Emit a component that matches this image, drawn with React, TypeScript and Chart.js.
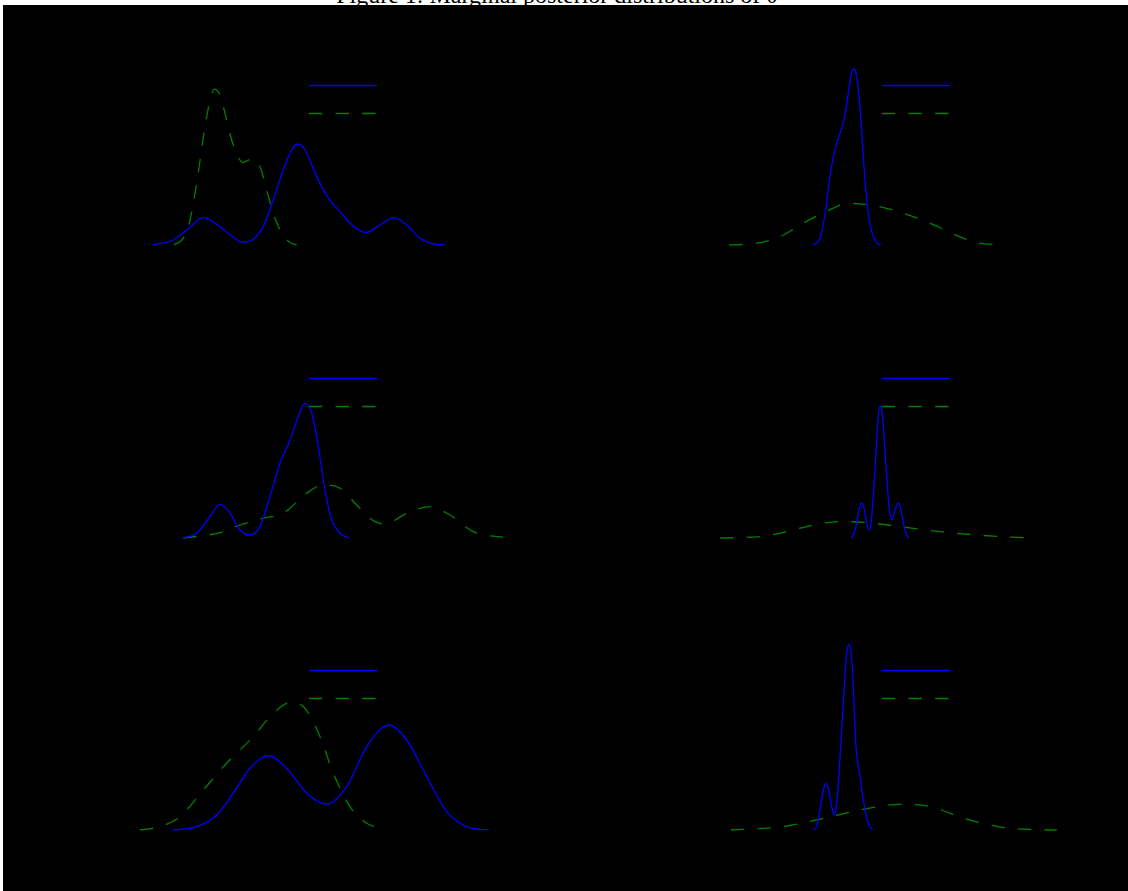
import React, { useEffect, useRef } from "react";
import { Chart, registerables } from "chart.js";

Chart.register(...registerables);

const TITLE = "Figure 1: Marginal posterior distributions of θ";
const SERIES_LABELS = ["Posterior", "Prior"];
const PANEL_NAMES = ["θ1", "θ2", "θ3", "θ4", "θ5", "θ6"];

// Panel 1 (top left)
const p1PostX = [-3.925, -3.418, -3.083, -2.668, -2.25, -1.918, -1.683, -1.418, -1.168, -0.918, -0.668, -0.458, -0.308, -0.125, 0.168, 0.458, 0.75, 1.083, 1.393, 1.75, 2.1, 2.418, 2.75, 3.083, 3.375];
const p1PostY = [0, 0.025, 0.075, 0.137, 0.092, 0.039, 0.014, 0.029, 0.092, 0.225, 0.375, 0.475, 0.505, 0.475, 0.342, 0.234, 0.167, 0.095, 0.062, 0.1, 0.137, 0.1, 0.034, 0.005, 0];
const p1PriorX = [-3.4, -3.168, -3.0, -2.833, -2.583, -2.393, -2.25, -2.125, -1.958, -1.833, -1.683, -1.458, -1.25, -1.083, -0.918, -0.708, -0.5, -0.333];
const p1PriorY = [0, 0.034, 0.125, 0.309, 0.642, 0.779, 0.75, 0.659, 0.525, 0.459, 0.412, 0.43, 0.392, 0.275, 0.159, 0.059, 0.012, 0];

// Panel 2 (top right)
const p2PostX = [-1.758, -1.575, -1.433, -1.35, -1.258, -1.158, -1.033, -0.95, -0.868, -0.8, -0.743, -0.675, -0.575, -0.508, -0.443, -0.368, -0.283, -0.158, -0.058];
const p2PostY = [0, 0.034, 0.175, 0.309, 0.425, 0.509, 0.584, 0.65, 0.759, 0.85, 0.88, 0.862, 0.692, 0.492, 0.309, 0.159, 0.067, 0.012, 0];
const p2PriorX = [-3.843, -3.158, -2.575, -1.993, -1.243, -0.908, -0.158, 0.508, 1.175, 1.758, 2.343, 3.075];
const p2PriorY = [0, 0.009, 0.042, 0.109, 0.184, 0.209, 0.195, 0.159, 0.109, 0.055, 0.012, 0];

// Panel 3 (middle left)
const p3PostX = [-3.168, -2.833, -2.5, -2.25, -2.0, -1.75, -1.5, -1.25, -1.0, -0.75, -0.5, -0.293, -0.125, 0.043, 0.208, 0.375, 0.543, 0.75, 0.983];
const p3PostY = [0, 0.024, 0.107, 0.169, 0.124, 0.04, 0.015, 0.057, 0.207, 0.374, 0.49, 0.607, 0.674, 0.624, 0.457, 0.24, 0.09, 0.024, 0];
const p3PriorX = [-3.168, -2.25, -1.75, -1.168, -0.668, -0.083, 0.333, 0.75, 1.168, 1.583, 1.875, 2.418, 3.0, 3.5, 4.083, 5.0];
const p3PriorY = [0, 0.027, 0.065, 0.099, 0.124, 0.224, 0.265, 0.249, 0.165, 0.087, 0.07, 0.124, 0.157, 0.115, 0.032, 0];

// Panel 4 (middle right)
const p4PostX = [-0.783, -0.725, -0.658, -0.593, -0.533, -0.475, -0.408, -0.35, -0.3, -0.243, -0.183, -0.133, -0.075, -0.018, 0.033, 0.093, 0.15, 0.218, 0.3, 0.383, 0.45, 0.508, 0.575, 0.633];
const p4PostY = [0, 0.024, 0.074, 0.149, 0.177, 0.149, 0.074, 0.04, 0.074, 0.207, 0.39, 0.574, 0.66, 0.624, 0.49, 0.307, 0.157, 0.09, 0.14, 0.177, 0.14, 0.074, 0.024, 0];
const p4PriorX = [-4.075, -3.075, -2.408, -1.743, -1.075, -0.408, 0.425, 1.425, 2.343, 3.633];
const p4PriorY = [0, 0.007, 0.032, 0.065, 0.082, 0.077, 0.057, 0.032, 0.015, 0];

// Panel 5 (bottom left)
const p5PostX = [-3.418, -2.833, -2.333, -1.918, -1.5, -1.043, -0.583, -0.083, 0.418, 0.918, 1.418, 1.975, 2.418, 2.918, 3.418, 3.918, 4.458];
const p5PostY = [0, 0.017, 0.075, 0.184, 0.309, 0.372, 0.309, 0.184, 0.129, 0.217, 0.417, 0.525, 0.45, 0.267, 0.092, 0.017, 0];
const p5PriorX = [-4.25, -3.75, -3.25, -2.668, -2.083, -1.418, -0.918, -0.5, -0.168, 0.25, 0.583, 1.0, 1.418, 1.793];
const p5PriorY = [0, 0.017, 0.067, 0.2, 0.334, 0.467, 0.584, 0.637, 0.617, 0.467, 0.284, 0.117, 0.034, 0.007];

// Panel 6 (bottom right)
const p6PostX = [-1.725, -1.658, -1.575, -1.493, -1.425, -1.358, -1.283, -1.225, -1.158, -1.093, -1.033, -0.975, -0.908, -0.858, -0.808, -0.758, -0.718, -0.675, -0.643, -0.575, -0.518, -0.45, -0.368, -0.258];
const p6PostY = [0, 0.017, 0.1, 0.2, 0.234, 0.2, 0.117, 0.075, 0.134, 0.3, 0.5, 0.7, 0.884, 0.925, 0.9, 0.784, 0.584, 0.417, 0.35, 0.267, 0.184, 0.1, 0.034, 0];
const p6PriorX = [-3.8, -2.493, -1.575, -0.575, 0.425, 1.175, 2.093, 3.175, 4.343];
const p6PriorY = [0, 0.017, 0.054, 0.1, 0.128, 0.117, 0.054, 0.009, 0];

const X_MIN = -5.5;
const X_MAX = 5.5;
const Y_MIN = 0;
const Y_MAX = 1;

const PANELS = [
  { name: PANEL_NAMES[0], postX: p1PostX, postY: p1PostY, priorX: p1PriorX, priorY: p1PriorY },
  { name: PANEL_NAMES[1], postX: p2PostX, postY: p2PostY, priorX: p2PriorX, priorY: p2PriorY },
  { name: PANEL_NAMES[2], postX: p3PostX, postY: p3PostY, priorX: p3PriorX, priorY: p3PriorY },
  { name: PANEL_NAMES[3], postX: p4PostX, postY: p4PostY, priorX: p4PriorX, priorY: p4PriorY },
  { name: PANEL_NAMES[4], postX: p5PostX, postY: p5PostY, priorX: p5PriorX, priorY: p5PriorY },
  { name: PANEL_NAMES[5], postX: p6PostX, postY: p6PostY, priorX: p6PriorX, priorY: p6PriorY },
];

// Layout (page pixels)
const COL_LEFT = [3, 565];
const COL_WIDTH = [562, 563];
const COL_CENTER = [310, 883];
const HALF_PLOT_W = 220;
const ROW_TOP = [5, 297, 589];
const ROW_HEIGHT = [292, 292, 302];
const ROW_BASE = [245, 538, 830];
const PLOT_H = 200;

const BLUE = "#0000ff";
const GREEN = "#008000";
const DASH = [13.3, 13.3];

const legendPlugin = {
  id: "innerLegend",
  afterDatasetsDraw(chart: any) {
    const { ctx, chartArea } = chart;
    ctx.save();
    chart.data.datasets.forEach((ds: any, i: number) => {
      const y = chartArea.top + 40.5 + 28 * i;
      const x0 = chartArea.left + 219;
      const x1 = chartArea.left + 287;
      ctx.beginPath();
      ctx.setLineDash(ds.borderDash || []);
      ctx.lineDashOffset = 0;
      ctx.strokeStyle = ds.borderColor;
      ctx.lineWidth = 1.5;
      ctx.moveTo(x0, y);
      ctx.lineTo(x1, y);
      ctx.stroke();
      ctx.setLineDash([]);
      ctx.fillStyle = "#000000";
      ctx.font = "16px 'Liberation Serif', serif";
      ctx.textBaseline = "middle";
      ctx.textAlign = "left";
      ctx.fillText(ds.label, x1 + 10, y);
    });
    ctx.fillStyle = "#000000";
    ctx.font = "16px 'Liberation Serif', serif";
    ctx.textAlign = "center";
    ctx.textBaseline = "bottom";
    ctx.fillText(chart.options.plugins.panelName || "", (chartArea.left + chartArea.right) / 2, chartArea.top - 6);
    ctx.restore();
  },
};

function Panel({ index }: { index: number }) {
  const ref = useRef<HTMLCanvasElement | null>(null);
  const col = index % 2;
  const row = Math.floor(index / 2);
  const left = COL_LEFT[col];
  const top = ROW_TOP[row];
  const width = COL_WIDTH[col];
  const height = ROW_HEIGHT[row];
  const plotLeft = COL_CENTER[col] - HALF_PLOT_W;
  const plotRight = COL_CENTER[col] + HALF_PLOT_W;
  const plotBottom = ROW_BASE[row];
  const plotTop = plotBottom - PLOT_H;

  useEffect(() => {
    if (!ref.current) return;
    const p = PANELS[index];
    const chart = new Chart(ref.current, {
      type: "line",
      data: {
        datasets: [
          {
            label: SERIES_LABELS[0],
            data: p.postX.map((x, i) => ({ x, y: p.postY[i] })),
            borderColor: BLUE,
            backgroundColor: "transparent",
            borderWidth: 1.3,
            pointRadius: 0,
            fill: false,
            cubicInterpolationMode: "monotone",
            clip: false,
          },
          {
            label: SERIES_LABELS[1],
            data: p.priorX.map((x, i) => ({ x, y: p.priorY[i] })),
            borderColor: GREEN,
            backgroundColor: "transparent",
            borderWidth: 1.3,
            borderDash: DASH,
            pointRadius: 0,
            fill: false,
            cubicInterpolationMode: "monotone",
            clip: false,
          },
        ],
      },
      options: {
        animation: false,
        responsive: false,
        maintainAspectRatio: false,
        events: [],
        layout: {
          padding: {
            left: plotLeft - left,
            right: left + width - plotRight,
            top: plotTop - top,
            bottom: top + height - plotBottom,
          },
        },
        scales: {
          x: { type: "linear", min: X_MIN, max: X_MAX, display: false },
          y: { type: "linear", min: Y_MIN, max: Y_MAX, display: false },
        },
        plugins: {
          legend: { display: false },
          tooltip: { enabled: false },
          title: { display: false },
          panelName: p.name,
        } as any,
      },
      plugins: [legendPlugin],
    } as any);
    return () => chart.destroy();
  }, [index]);

  return (
    <canvas
      ref={ref}
      width={width}
      height={height}
      style={{ position: "absolute", left, top, width, height, display: "block" }}
    />
  );
}

export default function App() {
  return (
    <div style={{ position: "absolute", left: 0, top: 0, width: 1128, height: 891, overflow: "hidden", background: "#ffffff" }}>
      <div
        style={{
          position: "absolute",
          left: -7,
          top: -17,
          width: 1128,
          textAlign: "center",
          fontFamily: "'Liberation Serif', serif",
          fontSize: 24,
          lineHeight: "24px",
          color: "#000000",
          whiteSpace: "nowrap",
        }}
      >
        {TITLE}
      </div>
      <div style={{ position: "absolute", left: 3, top: 5, width: 1125, height: 886, background: "#000000" }} />
      {PANELS.map((_, i) => (
        <Panel key={i} index={i} />
      ))}
    </div>
  );
}
